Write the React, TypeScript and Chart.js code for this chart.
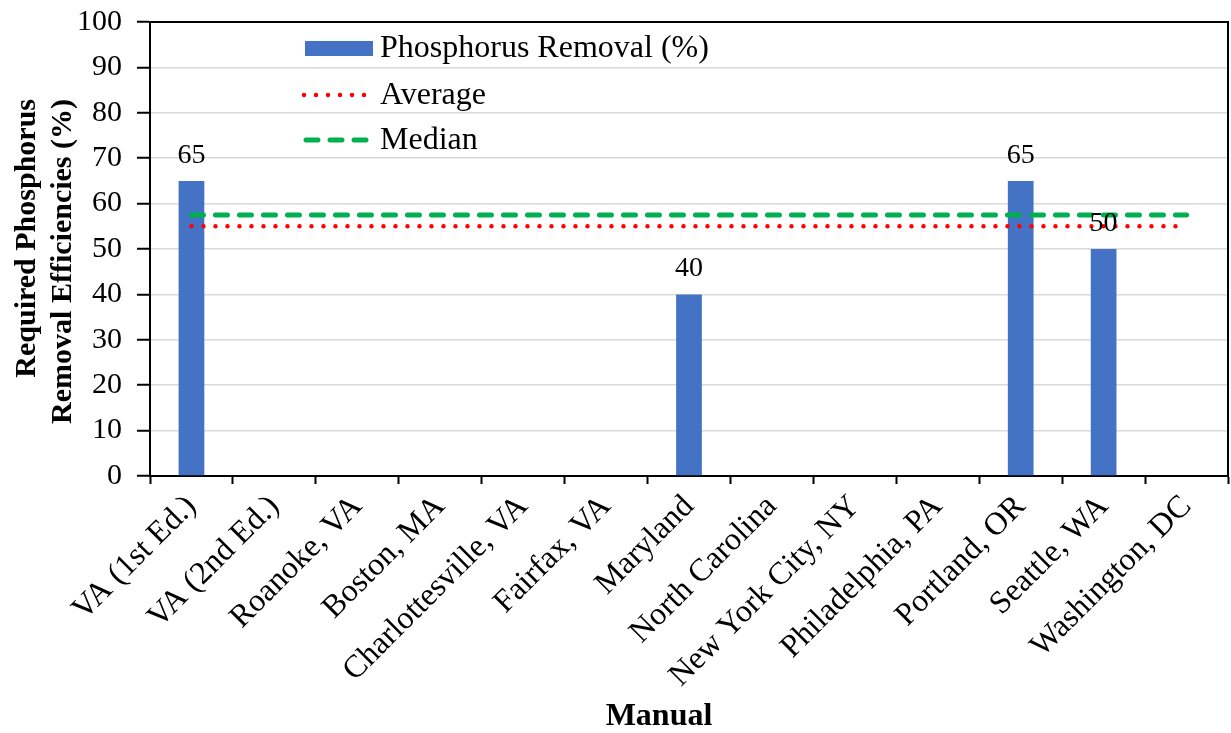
import React, { useEffect, useRef } from "react";
import { Chart, registerables } from "chart.js";

Chart.register(...registerables);

const categories = [
  "VA (1st Ed.)",
  "VA (2nd Ed.)",
  "Roanoke, VA",
  "Boston, MA",
  "Charlottesville, VA",
  "Fairfax, VA",
  "Maryland",
  "North Carolina",
  "New York City, NY",
  "Philadelphia, PA",
  "Portland, OR",
  "Seattle, WA",
  "Washington, DC",
];
const removal = [65, null, null, null, null, null, 40, null, null, null, 65, 50, null];
const average = [55, 55, 55, 55, 55, 55, 55, 55, 55, 55, 55, 55, 55];
const median = [57.5, 57.5, 57.5, 57.5, 57.5, 57.5, 57.5, 57.5, 57.5, 57.5, 57.5, 57.5, 57.5];
const seriesNames = ["Phosphorus Removal (%)", "Average", "Median"];
const yTitle = ["Required Phosphorus", "Removal Efficiencies (%)"];
const xTitle = "Manual";

const SERIF = "'Liberation Serif', 'Times New Roman', serif";
const BAR_COLOR = "#4472C4";
const AVG_COLOR = "#FF0000";
const MED_COLOR = "#00B050";

const framePlugin = {
  id: "frame",
  afterDraw(chart: any) {
    const { ctx, chartArea } = chart;
    ctx.save();
    ctx.strokeStyle = "#000";
    ctx.lineWidth = 2;
    ctx.beginPath();
    ctx.moveTo(chartArea.left, chartArea.top);
    ctx.lineTo(chartArea.right, chartArea.top);
    ctx.lineTo(chartArea.right, chartArea.bottom);
    ctx.stroke();
    ctx.restore();
  },
};

const titlePlugin = {
  id: "axisTitles",
  afterDraw(chart: any) {
    const { ctx } = chart;
    ctx.save();
    ctx.fillStyle = "#000";
    ctx.textBaseline = "middle";
    ctx.font = `bold 30px ${SERIF}`;
    ctx.textAlign = "right";
    const xs = [27, 63];
    yTitle.forEach((t, i) => {
      ctx.save();
      ctx.translate(xs[i], 99);
      ctx.rotate(-Math.PI / 2);
      ctx.fillText(t, 0, 0);
      ctx.restore();
    });
    ctx.textAlign = "center";
    ctx.font = `bold 32px ${SERIF}`;
    ctx.fillText(xTitle, 659, 717);
    ctx.restore();
  },
};

const labelPlugin = {
  id: "barLabels",
  afterDatasetsDraw(chart: any) {
    const { ctx } = chart;
    const meta = chart.getDatasetMeta(0);
    const data = chart.data.datasets[0].data;
    ctx.save();
    ctx.font = `28px ${SERIF}`;
    ctx.fillStyle = "#000";
    ctx.textAlign = "center";
    ctx.textBaseline = "alphabetic";
    meta.data.forEach((el: any, i: number) => {
      const v = data[i];
      if (v === null || v === undefined) return;
      ctx.fillText(String(v), el.x, el.y - 18);
    });
    ctx.restore();
  },
};

const legendPlugin = {
  id: "customLegend",
  afterDraw(chart: any) {
    const { ctx } = chart;
    const ds = chart.data.datasets;
    const x0 = 304;
    const textX = 380;
    const rows = [48, 95, 140];
    ctx.save();
    ctx.font = `32px ${SERIF}`;
    ctx.textAlign = "left";
    ctx.textBaseline = "middle";
    ctx.fillStyle = ds[0].backgroundColor;
    ctx.fillRect(x0 + 1, rows[0] - 7, 68, 15);
    ctx.strokeStyle = ds[1].borderColor;
    ctx.lineWidth = ds[1].borderWidth;
    ctx.lineCap = "round";
    ctx.setLineDash(ds[1].borderDash);
    ctx.beginPath();
    ctx.moveTo(x0, rows[1]);
    ctx.lineTo(x0 + 68, rows[1]);
    ctx.stroke();
    ctx.strokeStyle = ds[2].borderColor;
    ctx.lineWidth = ds[2].borderWidth;
    ctx.setLineDash(ds[2].borderDash);
    ctx.beginPath();
    ctx.moveTo(x0 + 2, rows[2]);
    ctx.lineTo(x0 + 64, rows[2]);
    ctx.stroke();
    ctx.setLineDash([]);
    ctx.fillStyle = "#000";
    ds.forEach((d: any, i: number) => {
      ctx.fillText(d.label, textX, rows[i] + 1);
    });
    ctx.restore();
  },
};

export default function App() {
  const ref = useRef<HTMLCanvasElement | null>(null);
  useEffect(() => {
    if (!ref.current) return;
    const chart = new Chart(ref.current, {
      type: "bar",
      data: {
        labels: categories,
        datasets: [
          {
            type: "bar",
            label: seriesNames[0],
            data: removal,
            backgroundColor: BAR_COLOR,
            barPercentage: 0.31,
            categoryPercentage: 1,
            order: 3,
          },
          {
            type: "line",
            label: seriesNames[1],
            data: average,
            borderColor: AVG_COLOR,
            backgroundColor: AVG_COLOR,
            borderWidth: 4.5,
            borderDash: [0, 12],
            borderCapStyle: "round",
            pointRadius: 0,
            fill: false,
            order: 2,
          },
          {
            type: "line",
            label: seriesNames[2],
            data: median,
            borderColor: MED_COLOR,
            backgroundColor: MED_COLOR,
            borderWidth: 5,
            borderDash: [12, 12],
            borderCapStyle: "round",
            pointRadius: 0,
            fill: false,
            order: 1,
          },
        ] as any,
      },
      options: {
        responsive: false,
        animation: false,
        layout: { padding: { top: 22, right: 3, left: 0, bottom: 0 } },
        plugins: {
          legend: { display: false },
          tooltip: { enabled: false },
        },
        scales: {
          x: {
            offset: true,
            grid: {
              offset: true,
              drawOnChartArea: false,
              drawTicks: true,
              tickLength: 8,
              tickColor: "#000",
              tickWidth: 2,
            },
            border: { color: "#000", width: 2 },
            ticks: {
              color: "#000",
              font: { family: SERIF, size: 32 },
              maxRotation: 45,
              minRotation: 45,
              autoSkip: false,
              padding: 4,
            },
            title: { display: false },
            afterFit(scale: any) {
              scale.height = 257;
              scale.paddingLeft = 0;
              scale.paddingRight = 0;
            },
          },
          y: {
            min: 0,
            max: 100,
            ticks: {
              stepSize: 10,
              color: "#000",
              font: { family: SERIF, size: 30 },
              padding: 15,
            },
            grid: {
              color: "#d9d9d9",
              lineWidth: 1.5,
              tickColor: "#000",
              tickLength: 13,
              tickWidth: 2,
            },
            border: { color: "#000", width: 2 },
            title: { display: false },
            afterFit(scale: any) {
              scale.width = 150;
              scale.paddingTop = 0;
              scale.paddingBottom = 0;
            },
          },
        },
      },
      plugins: [labelPlugin, framePlugin, legendPlugin, titlePlugin],
    });
    return () => chart.destroy();
  }, []);
  return (
    <div style={{ position: "absolute", left: 0, top: 0, width: 1231, height: 733, background: "#fff" }}>
      <canvas ref={ref} width={1231} height={733} style={{ display: "block" }} />
    </div>
  );
}
